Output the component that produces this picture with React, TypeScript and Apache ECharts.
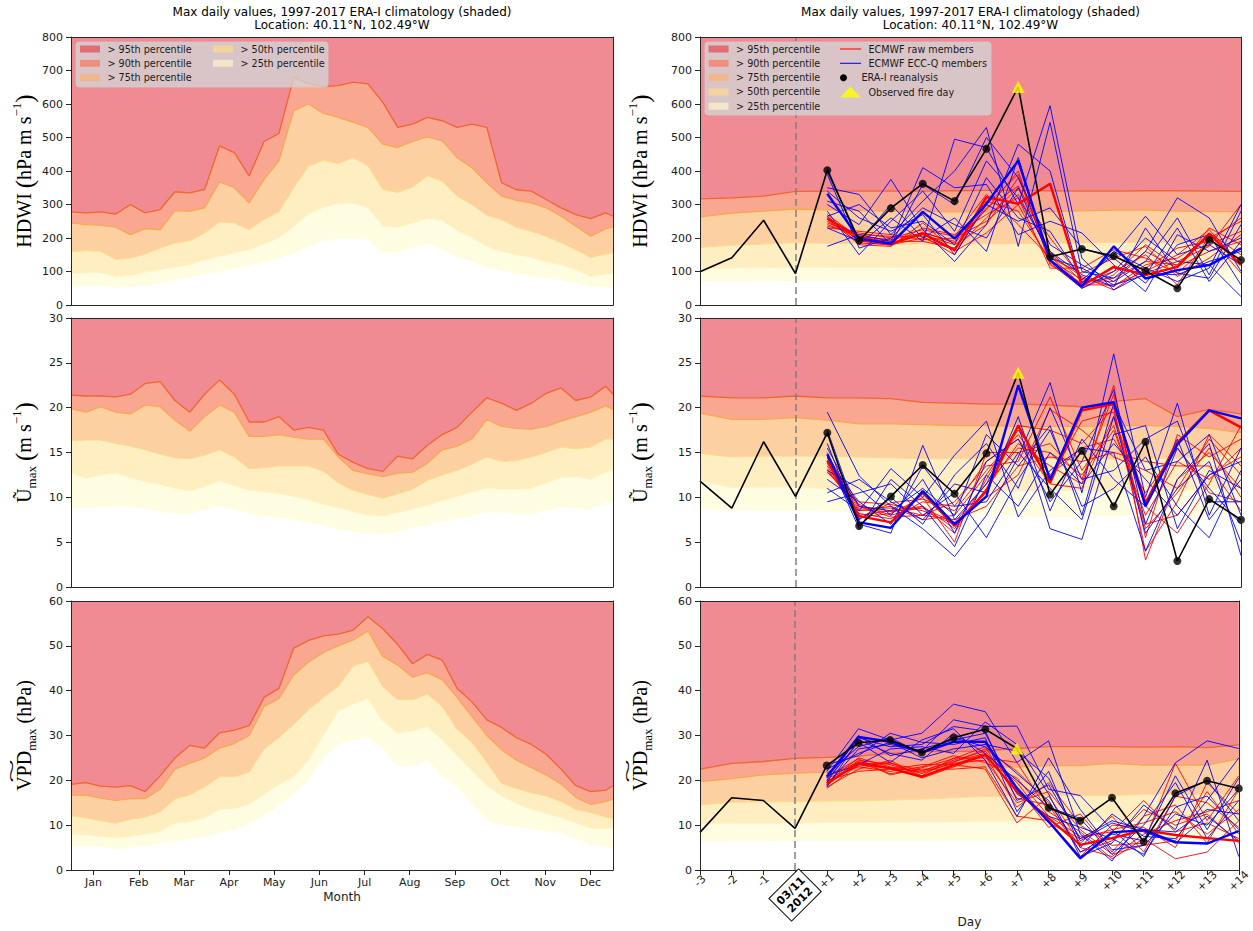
import React, { useEffect, useRef } from 'react';
import * as echarts from 'echarts';

// ---------------- data ----------------
const MONTHS = ['Jan', 'Feb', 'Mar', 'Apr', 'May', 'Jun', 'Jul', 'Aug', 'Sep', 'Oct', 'Nov', 'Dec'];
const CLIM_DAYS = [0, 10, 20, 30, 40, 50, 60, 70, 80, 90, 100, 110, 120, 130, 140, 150, 160, 170, 180, 190, 200, 210, 220, 230, 240, 250, 260, 270, 280, 290, 300, 310, 320, 330, 340, 350, 360, 365];

const HDWI_P95 = [278, 275, 278, 271, 300, 275, 285, 338, 335, 345, 475, 455, 385, 488, 512, 680, 660, 652, 655, 665, 660, 605, 530, 540, 560, 550, 530, 540, 530, 365, 344, 340, 315, 290, 270, 258, 275, 265];
const HDWI_P90 = [245, 240, 238, 232, 210, 228, 224, 282, 280, 290, 367, 350, 305, 375, 430, 580, 600, 572, 560, 545, 530, 480, 470, 488, 502, 490, 440, 410, 365, 325, 312, 305, 290, 265, 235, 205, 228, 233];
const HDWI_P75 = [159, 162, 160, 136, 140, 152, 170, 185, 192, 215, 248, 245, 225, 255, 278, 350, 415, 432, 422, 440, 415, 345, 336, 352, 385, 370, 325, 300, 268, 255, 232, 220, 205, 186, 165, 142, 152, 156];
const HDWI_P50 = [94, 96, 97, 84, 88, 98, 105, 112, 120, 134, 145, 155, 165, 182, 200, 235, 272, 292, 302, 303, 290, 235, 232, 245, 258, 252, 222, 200, 175, 160, 150, 142, 128, 120, 105, 84, 92, 94];
const HDWI_P25 = [55, 57, 58, 51, 54, 59, 65, 75, 85, 92, 99, 108, 118, 128, 140, 154, 175, 192, 196, 198, 195, 155, 158, 170, 182, 165, 142, 130, 112, 102, 92, 86, 80, 74, 66, 55, 52, 50];

const UMAX_P95 = [21.4, 21.3, 21.3, 21.2, 21.5, 22.7, 22.9, 20.8, 19.5, 21.5, 23.1, 21.5, 18.4, 18.4, 19.0, 17.5, 17.8, 17.5, 14.8, 13.9, 13.2, 12.9, 14.6, 14.3, 15.8, 17.0, 17.8, 19.5, 21.1, 20.5, 19.7, 20.5, 21.6, 22.2, 20.8, 21.2, 22.4, 21.5];
const UMAX_P90 = [19.9, 19.5, 20.1, 19.5, 19.3, 20.3, 20.1, 18.6, 17.4, 19.0, 20.3, 19.5, 16.8, 16.8, 17.0, 16.7, 16.5, 16.5, 14.5, 13.0, 12.6, 12.3, 12.7, 12.8, 13.8, 15.3, 15.7, 16.5, 18.7, 17.9, 17.7, 17.6, 17.9, 18.5, 19.0, 19.5, 20.2, 19.8];
const UMAX_P75 = [16.3, 16.4, 16.4, 16.0, 15.7, 15.3, 14.8, 14.4, 14.3, 14.7, 15.3, 14.5, 13.2, 13.3, 13.5, 13.5, 13.5, 12.9, 11.6, 10.8, 10.3, 9.9, 10.4, 10.9, 11.9, 12.5, 13.0, 13.7, 14.5, 14.0, 14.1, 14.5, 15.0, 15.6, 15.4, 15.6, 16.5, 16.5];
const UMAX_P50 = [12.7, 12.1, 12.5, 12.7, 12.2, 11.7, 11.4, 11.0, 10.7, 11.2, 11.8, 11.3, 10.8, 10.6, 10.4, 10.1, 9.7, 9.2, 8.8, 8.4, 8.0, 7.9, 8.3, 8.7, 9.1, 9.6, 10.1, 10.6, 11.0, 10.9, 10.9, 11.0, 11.6, 12.2, 12.3, 12.0, 12.8, 13.0];
const UMAX_P25 = [8.8, 8.8, 8.9, 9.0, 8.9, 8.7, 8.4, 8.2, 8.1, 8.6, 9.0, 8.6, 8.2, 7.9, 7.7, 7.5, 7.2, 6.8, 6.4, 6.2, 6.0, 5.9, 6.2, 6.6, 6.9, 7.3, 7.6, 7.9, 8.3, 8.3, 8.1, 8.1, 8.5, 8.9, 8.8, 8.7, 9.4, 9.4];

const VPD_P95 = [19.1, 19.5, 18.7, 18.5, 18.8, 17.5, 21.0, 25.0, 27.8, 27.2, 30.6, 31.2, 32.2, 38.5, 40.5, 49.5, 51.2, 52.2, 52.6, 53.5, 56.5, 53.8, 50.3, 46.0, 48.1, 46.8, 40.5, 37.5, 33.5, 31.8, 29.5, 28.0, 25.8, 22.5, 18.8, 17.5, 17.8, 18.8];
const VPD_P90 = [16.7, 16.7, 16.0, 15.5, 15.9, 15.9, 18.0, 22.5, 23.8, 25.0, 27.2, 28.2, 30.0, 36.5, 38.2, 43.5, 46.4, 48.5, 50.0, 51.3, 53.3, 47.6, 45.7, 43.0, 44.0, 42.4, 38.5, 34.2, 30.0, 26.8, 24.5, 22.8, 21.2, 19.2, 16.2, 14.6, 15.3, 15.8];
const VPD_P75 = [12.1, 11.6, 11.0, 10.4, 11.3, 11.8, 13.0, 15.8, 16.8, 18.5, 20.8, 20.8, 21.8, 27.0, 29.5, 32.5, 35.8, 38.5, 41.0, 45.5, 46.5, 40.9, 38.0, 38.0, 39.2, 36.5, 31.4, 28.5, 24.0, 19.3, 18.2, 17.2, 16.5, 15.3, 13.5, 12.8, 11.8, 11.5];
const VPD_P50 = [8.0, 7.8, 7.5, 7.2, 7.5, 8.0, 8.6, 10.4, 10.8, 11.6, 13.5, 13.7, 14.6, 16.9, 19.0, 20.8, 24.5, 30.0, 35.5, 37.0, 38.2, 33.1, 30.5, 31.0, 32.0, 29.0, 25.5, 22.2, 18.8, 16.5, 14.8, 13.5, 12.6, 11.6, 10.5, 9.3, 9.3, 9.3];
const VPD_P25 = [5.2, 5.3, 5.3, 4.6, 4.9, 5.5, 6.0, 6.4, 6.9, 7.4, 8.2, 9.0, 10.3, 12.2, 14.3, 17.0, 20.0, 25.0, 28.0, 29.0, 29.6, 27.1, 23.2, 23.2, 24.4, 21.0, 18.5, 14.8, 11.0, 10.0, 9.6, 9.1, 8.6, 8.2, 7.0, 5.7, 5.0, 4.8];

const FC_DAYS = [-3, -2, -1, 0, 1, 2, 3, 4, 5, 6, 7, 8, 9, 10, 11, 12, 13, 14];
const DAY_TICK_LABELS = ['-3', '-2', '-1', '03/11\n2012', '+1', '+2', '+3', '+4', '+5', '+6', '+7', '+8', '+9', '+10', '+11', '+12', '+13', '+14'];
const LEAD_DAYS = [1, 2, 3, 4, 5, 6, 7, 8, 9, 10, 11, 12, 13, 14];
const FIRE_DAY = 7;

const HDWI_F95 = [317, 320, 325, 339, 340, 340, 340, 340, 341, 342, 342, 341, 340, 340, 341, 341, 340, 339];
const HDWI_F90 = [263, 274, 280, 286, 284, 282, 280, 279, 278, 278, 279, 279, 281, 283, 283, 280, 279, 279];
const HDWI_F75 = [172, 178, 182, 186, 184, 183, 182, 182, 183, 183, 183, 184, 185, 187, 186, 186, 186, 187];
const HDWI_F50 = [108, 110, 111, 112, 112, 112, 112, 112, 113, 113, 113, 113, 114, 114, 114, 113, 113, 113];
const HDWI_F25 = [69, 70, 71, 72, 72, 72, 72, 72, 72, 73, 73, 73, 73, 72, 72, 72, 71, 70];

const UMAX_F95 = [21.3, 21.1, 21.1, 21.3, 21.1, 21.1, 21.0, 20.6, 20.5, 20.4, 20.4, 20.3, 20.1, 20.7, 21.0, 19.0, 19.8, 19.3];
const UMAX_F90 = [19.4, 18.7, 18.7, 18.9, 18.6, 18.2, 18.2, 18.1, 18.0, 18.0, 17.9, 17.9, 17.9, 18.0, 18.0, 17.9, 17.7, 17.2];
const UMAX_F75 = [14.9, 14.5, 14.6, 14.6, 14.6, 14.5, 14.4, 14.3, 14.3, 14.3, 14.3, 14.3, 14.3, 14.3, 14.3, 14.4, 14.6, 14.9];
const UMAX_F50 = [11.8, 11.1, 11.1, 11.2, 10.9, 10.9, 10.9, 10.8, 10.8, 10.8, 10.7, 10.7, 10.7, 10.7, 10.8, 10.8, 10.9, 10.9];
const UMAX_F25 = [8.7, 8.5, 8.5, 8.5, 8.4, 8.3, 8.2, 8.1, 8.0, 8.0, 7.9, 7.8, 7.8, 7.9, 7.9, 8.0, 8.0, 8.0];

const VPD_F95 = [22.5, 23.8, 24.2, 24.9, 25.1, 25.4, 26.0, 26.4, 26.4, 26.6, 27.1, 27.5, 27.5, 27.5, 27.4, 27.5, 27.3, 27.9];
const VPD_F90 = [19.7, 20.4, 21.2, 21.6, 21.8, 22.3, 22.7, 23.0, 23.0, 23.0, 23.0, 23.3, 23.3, 23.8, 23.4, 23.4, 23.4, 24.8];
const VPD_F75 = [14.5, 15.1, 15.2, 15.2, 15.4, 15.4, 15.6, 15.8, 16.1, 16.4, 16.6, 16.6, 16.6, 16.6, 16.9, 16.9, 16.9, 16.9];
const VPD_F50 = [10.2, 10.4, 10.4, 10.4, 10.6, 10.6, 10.6, 10.7, 10.7, 10.8, 10.8, 10.8, 10.8, 10.7, 10.7, 10.6, 10.6, 10.6];
const VPD_F25 = [6.3, 6.4, 6.4, 6.5, 6.5, 6.5, 6.5, 6.5, 6.6, 6.6, 6.6, 6.6, 6.6, 6.6, 6.5, 6.5, 6.5, 6.5];

const HDWI_ERA = [99, 141, 253, 94, 402, 193, 289, 362, 310, 466, 651, 144, 167, 146, 102, 50, 195, 134];
const UMAX_ERA = [11.8, 8.8, 16.2, 10.1, 17.2, 6.8, 10.1, 13.6, 10.4, 14.9, 23.9, 10.3, 15.2, 9.0, 16.2, 2.9, 9.8, 7.5];
const VPD_ERA = [8.4, 16.1, 15.5, 9.3, 23.3, 28.4, 29.0, 26.2, 29.5, 31.4, 27.1, 13.9, 11.0, 16.1, 6.3, 17.1, 19.9, 18.2];

const HDWI_RAW = [
  [250, 195, 180, 200, 165, 260, 350, 200, 80, 55, 120, 140, 200, 250],
  [240, 205, 195, 215, 190, 300, 390, 135, 75, 70, 160, 110, 230, 180],
  [265, 190, 185, 210, 180, 240, 380, 145, 60, 110, 95, 130, 175, 300],
  [235, 215, 200, 225, 205, 330, 240, 140, 95, 140, 175, 85, 140, 210],
  [270, 200, 190, 190, 170, 290, 355, 160, 70, 80, 130, 120, 215, 150],
  [255, 185, 180, 230, 210, 270, 320, 110, 110, 165, 140, 95, 180, 220],
  [245, 210, 205, 205, 150, 310, 280, 135, 60, 60, 100, 150, 225, 120],
  [260, 180, 175, 245, 160, 215, 300, 125, 50, 90, 180, 115, 160, 190],
  [230, 220, 210, 195, 200, 250, 330, 150, 85, 45, 110, 170, 190, 260],
  [262, 192, 178, 218, 185, 285, 400, 120, 65, 100, 150, 60, 205, 95],
];
const HDWI_RAW_BOLD = [258, 203, 183, 213, 164, 322, 302, 362, 57, 114, 89, 114, 213, 119];
const HDWI_ECCQ = [
  [410, 180, 260, 190, 495, 470, 300, 595, 140, 45, 95, 90, 130, 160],
  [350, 330, 210, 310, 400, 530, 175, 545, 100, 80, 160, 320, 260, 100],
  [300, 240, 375, 225, 130, 240, 480, 400, 65, 160, 110, 70, 110, 300],
  [175, 210, 190, 410, 350, 360, 210, 250, 215, 120, 40, 210, 160, 200],
  [280, 150, 250, 340, 220, 430, 320, 160, 90, 55, 230, 95, 80, 240],
  [340, 260, 220, 270, 150, 300, 250, 290, 170, 140, 65, 180, 210, 60],
  [230, 190, 300, 200, 260, 160, 440, 130, 50, 100, 200, 130, 120, 25],
  [310, 280, 180, 360, 300, 500, 380, 180, 120, 70, 130, 260, 90, 280],
  [265, 300, 230, 250, 180, 380, 260, 220, 75, 150, 265, 150, 180, 120],
  [390, 170, 200, 290, 240, 200, 350, 140, 110, 60, 90, 230, 70, 190],
];
const HDWI_ECCQ_BOLD = [332, 198, 183, 278, 198, 302, 431, 134, 55, 175, 79, 104, 119, 169];

const UMAX_RAW = [
  [13.5, 8.0, 8.5, 9.0, 6.5, 11.0, 16.0, 13.5, 11.5, 22.5, 3.0, 12.0, 15.0, 11.0],
  [14.5, 9.0, 7.8, 8.0, 9.5, 13.5, 14.0, 21.2, 13.0, 18.0, 7.0, 8.0, 12.5, 14.5],
  [13.0, 8.5, 9.0, 7.5, 8.0, 12.5, 17.5, 12.5, 15.5, 16.5, 10.5, 15.5, 10.5, 9.5],
  [15.0, 7.8, 8.2, 10.0, 5.0, 15.0, 15.0, 16.0, 12.0, 21.5, 5.5, 17.0, 14.5, 16.5],
  [14.0, 9.5, 9.2, 8.5, 7.0, 10.0, 12.5, 19.8, 17.5, 14.5, 13.0, 11.0, 16.5, 12.5],
  [13.2, 8.2, 7.6, 9.5, 9.0, 14.0, 16.5, 11.5, 11.0, 19.0, 9.0, 6.0, 11.5, 18.0],
  [14.8, 8.8, 8.8, 8.0, 7.5, 9.0, 13.5, 14.5, 14.0, 15.0, 14.0, 13.5, 13.5, 8.5],
  [12.8, 9.2, 8.0, 9.0, 6.0, 12.0, 18.0, 17.5, 16.0, 20.0, 4.0, 9.5, 17.0, 13.5],
  [14.2, 8.6, 8.4, 8.8, 7.2, 11.5, 15.5, 15.0, 12.5, 17.5, 8.0, 14.0, 12.0, 15.5],
  [13.8, 7.6, 9.4, 9.8, 8.5, 13.0, 17.0, 12.0, 18.5, 19.5, 6.5, 10.5, 15.5, 10.0],
];
const UMAX_RAW_BOLD = [14.1, 7.9, 7.2, 10.5, 6.8, 10.7, 18.0, 11.6, 19.7, 20.4, 9.4, 16.1, 19.7, 17.8];
const UMAX_ECCQ = [
  [19.5, 12.4, 9.0, 6.5, 3.4, 8.0, 14.5, 22.8, 10.5, 26.0, 10.0, 20.5, 8.0, 15.5],
  [11.0, 8.5, 13.2, 10.0, 14.7, 18.5, 7.8, 13.0, 15.5, 15.0, 4.0, 12.0, 16.0, 3.5],
  [16.0, 7.0, 6.0, 15.8, 7.5, 11.5, 18.0, 6.5, 5.3, 17.0, 18.0, 6.5, 13.0, 11.0],
  [9.5, 10.5, 11.5, 8.0, 10.5, 5.5, 12.0, 17.5, 9.0, 11.0, 14.5, 9.0, 5.5, 13.0],
  [13.0, 11.0, 8.0, 12.0, 6.0, 14.0, 16.5, 9.5, 14.0, 22.0, 7.0, 15.5, 11.0, 7.0],
  [17.5, 7.5, 10.0, 7.0, 12.5, 16.0, 11.0, 20.0, 12.0, 13.0, 16.5, 18.5, 9.5, 9.5],
  [12.0, 9.5, 7.0, 13.5, 9.0, 9.5, 15.0, 11.0, 7.5, 19.0, 6.0, 11.0, 14.0, 5.0],
  [14.5, 6.5, 12.0, 9.0, 4.5, 12.5, 9.0, 15.0, 11.5, 16.0, 12.0, 8.0, 12.5, 14.0],
  [15.5, 9.0, 8.5, 11.0, 8.0, 17.0, 13.5, 18.0, 8.0, 20.5, 13.0, 14.0, 17.0, 8.0],
  [10.5, 12.0, 9.5, 7.5, 11.5, 10.5, 19.0, 8.5, 16.5, 12.0, 9.0, 16.5, 7.5, 12.0],
];
const UMAX_ECCQ_BOLD = [14.8, 7.2, 6.6, 10.7, 7.0, 10.1, 22.5, 12.0, 20.0, 20.6, 9.0, 15.9, 19.7, 18.8];

const VPD_RAW = [
  [19.0, 24.5, 23.5, 21.5, 24.0, 27.0, 22.0, 15.0, 5.0, 3.0, 8.0, 11.0, 13.0, 15.5],
  [20.5, 23.0, 22.0, 23.0, 25.5, 24.0, 20.5, 12.0, 7.5, 8.5, 15.5, 8.5, 10.5, 7.0],
  [18.5, 22.5, 24.5, 20.5, 23.0, 25.5, 14.0, 19.5, 10.0, 5.5, 6.0, 23.8, 11.0, 21.0],
  [21.0, 24.0, 21.5, 22.5, 22.5, 23.0, 12.0, 11.0, 3.0, 10.0, 9.5, 5.0, 19.5, 12.5],
  [19.5, 25.0, 23.0, 22.0, 24.5, 26.5, 18.5, 9.5, 12.5, 4.0, 12.0, 14.5, 6.0, 18.0],
  [20.0, 22.0, 22.5, 23.5, 23.5, 22.5, 10.5, 16.5, 6.0, 12.0, 4.0, 16.5, 15.0, 9.5],
  [18.2, 23.5, 24.0, 21.0, 25.0, 25.0, 24.0, 13.0, 8.5, 2.5, 7.0, 2.5, 4.0, 11.0],
  [20.8, 24.8, 21.2, 22.8, 24.8, 27.5, 16.0, 14.5, 4.0, 6.5, 13.5, 10.0, 12.5, 6.0],
  [19.8, 23.2, 23.8, 22.2, 24.2, 26.0, 19.5, 10.5, 7.0, 9.0, 10.5, 13.0, 8.0, 13.5],
  [18.8, 24.2, 22.8, 21.8, 23.8, 24.5, 15.0, 17.5, 9.0, 3.5, 5.5, 6.5, 17.5, 8.0],
];
const VPD_RAW_BOLD = [19.3, 23.8, 22.7, 20.8, 23.4, 25.7, 17.5, 11.5, 5.6, 7.1, 8.9, 7.8, 7.1, 6.5];
const VPD_ECCQ = [
  [22.0, 31.5, 29.0, 30.5, 37.0, 35.3, 24.0, 28.8, 8.0, 2.0, 12.0, 23.9, 28.8, 27.1],
  [19.0, 27.0, 28.0, 26.5, 33.5, 32.0, 32.1, 18.0, 16.6, 9.0, 3.0, 16.5, 20.0, 11.0],
  [23.5, 25.5, 30.5, 28.5, 28.0, 29.5, 13.0, 22.0, 5.0, 12.5, 7.5, 7.0, 15.5, 25.0],
  [18.5, 29.0, 26.0, 24.5, 30.5, 26.0, 20.0, 14.0, 11.5, 3.5, 10.0, 19.5, 7.0, 15.5],
  [21.0, 23.5, 27.0, 27.5, 26.0, 33.0, 28.0, 17.0, 3.0, 6.0, 14.5, 9.0, 24.5, 3.0],
  [20.0, 28.5, 24.0, 29.0, 31.5, 24.5, 11.9, 25.0, 13.5, 4.5, 5.5, 12.5, 10.0, 18.0],
  [22.5, 26.0, 28.5, 25.0, 27.0, 28.0, 26.5, 20.5, 6.5, 10.5, 8.5, 6.0, 12.0, 6.5],
  [19.5, 30.0, 25.5, 27.0, 29.0, 30.5, 17.0, 12.0, 9.5, 7.0, 3.5, 14.0, 16.5, 9.0],
  [21.5, 27.5, 29.5, 26.0, 29.5, 27.5, 21.5, 15.5, 4.0, 8.0, 6.5, 21.0, 9.0, 20.5],
  [20.5, 29.5, 27.5, 28.0, 32.0, 31.0, 15.5, 19.0, 7.0, 11.0, 9.0, 8.5, 13.5, 12.5],
];
const VPD_ECCQ_BOLD = [20.8, 29.7, 28.6, 26.2, 28.6, 28.6, 18.2, 10.8, 2.6, 8.4, 8.9, 6.2, 5.9, 8.7];

const Y_MAX = [800, 30, 60];
const Y_INTERVAL = [100, 5, 10];
const Y_NAMES = [
  '{a|HDWI }{p|(}{a|hPa m s}{sup|\u22121}{p|)}',
  '{a|\u0168}{sub|max}{a| }{p|(}{a|m s}{sup|\u22121}{p|)}',
  '{a|VPD}{sub|max}{a| (hPa)}',
];
const TITLE = 'Max daily values, 1997-2017 ERA-I climatology (shaded)\nLocation: 40.11\u00b0N, 102.49\u00b0W';

// ---------------- styling ----------------
const FONT = "'DejaVu Sans', sans-serif";
const SERIF = "'Liberation Serif', 'DejaVu Serif', serif";
const AX = '#262626';
const TXT = '#1a1a1a';
const C_TOP = '#f08b94';
const BAND_STYLE = [
  { name: '> 90th percentile', line: '#f5642d', lw: 1.3, area: '#f9a790' },
  { name: '> 75th percentile', line: '#fca64c', lw: 1.2, area: '#fdd0a2' },
  { name: '> 50th percentile', line: '#fedb86', lw: 1.0, area: '#feeec2' },
  { name: '> 25th percentile', line: '#fff4c4', lw: 0.8, area: '#fffde1' },
  { name: 'below 25th', line: '#ffffff', lw: 0, area: '#ffffff' },
];
const LEGEND_PATCH = {
  '> 95th percentile': '#e06c76',
  '> 90th percentile': '#ef8f7e',
  '> 75th percentile': '#f1b68b',
  '> 50th percentile': '#f2d49f',
  '> 25th percentile': '#efe6cb',
};

const CLIM = [
  [HDWI_P95, HDWI_P90, HDWI_P75, HDWI_P50, HDWI_P25],
  [UMAX_P95, UMAX_P90, UMAX_P75, UMAX_P50, UMAX_P25],
  [VPD_P95, VPD_P90, VPD_P75, VPD_P50, VPD_P25],
];
const FC = [
  [HDWI_F95, HDWI_F90, HDWI_F75, HDWI_F50, HDWI_F25],
  [UMAX_F95, UMAX_F90, UMAX_F75, UMAX_F50, UMAX_F25],
  [VPD_F95, VPD_F90, VPD_F75, VPD_F50, VPD_F25],
];
const ERA = [HDWI_ERA, UMAX_ERA, VPD_ERA];
const RAW = [HDWI_RAW, UMAX_RAW, VPD_RAW];
const RAW_BOLD = [HDWI_RAW_BOLD, UMAX_RAW_BOLD, VPD_RAW_BOLD];
const ECCQ = [HDWI_ECCQ, UMAX_ECCQ, VPD_ECCQ];
const ECCQ_BOLD = [HDWI_ECCQ_BOLD, UMAX_ECCQ_BOLD, VPD_ECCQ_BOLD];

function buildOption() {
  const ROWS = [
    { top: 37, height: 268 },
    { top: 318, height: 269 },
    { top: 601, height: 269 },
  ];
  const COLS = [
    { left: 71, width: 542 },
    { left: 700, width: 541 },
  ];
  const grid: any[] = [];
  const xAxis: any[] = [];
  const yAxis: any[] = [];
  const series: any[] = [];
  const lbl = { fontFamily: FONT, fontSize: 11, color: TXT };
  const lineAx = { show: true, onZero: false, lineStyle: { color: AX, width: 1 } };
  const nameStyle = {
    fontFamily: SERIF,
    fontSize: 20,
    color: '#000',
    rich: {
      a: { fontFamily: SERIF, fontSize: 20, lineHeight: 28, color: '#000' },
      p: { fontFamily: SERIF, fontSize: 25, lineHeight: 28, color: '#000' },
      sup: { fontFamily: SERIF, fontSize: 13, lineHeight: 12, verticalAlign: 'top', color: '#000' },
      sub: { fontFamily: SERIF, fontSize: 13, lineHeight: 12, verticalAlign: 'bottom', color: '#000' },
    },
  };

  // empty series that carries the ">95th" legend entry (the band is the grid background)
  series.push({ type: 'line', name: '> 95th percentile', data: [], xAxisIndex: 0, yAxisIndex: 0, silent: true });

  for (let c = 0; c < 2; c++) {
    for (let r = 0; r < 3; r++) {
      const g = grid.length;
      grid.push({
        left: COLS[c].left, top: ROWS[r].top, width: COLS[c].width, height: ROWS[r].height,
        show: true, backgroundColor: C_TOP, borderWidth: 0, containLabel: false,
      });
      const xmin = c ? -3 : 0;
      const xmax = c ? 14 : 365;
      const xi = xAxis.length;
      const bottom = r === 2;
      xAxis.push({
        gridIndex: g, type: 'value', position: 'bottom', min: xmin, max: xmax,
        ...(c ? { interval: 1 } : {}),
        axisLine: lineAx,
        axisTick: { show: c === 1 && bottom, length: 5, lineStyle: { color: AX } },
        axisLabel: { show: false }, splitLine: { show: false }, z: 10,
      });
      xAxis.push({
        gridIndex: g, type: 'value', position: 'top', min: xmin, max: xmax,
        axisLine: lineAx, axisTick: { show: false }, axisLabel: { show: false }, splitLine: { show: false }, z: 10,
      });
      if (bottom && c === 0) {
        xAxis.push({
          gridIndex: g, type: 'category', position: 'bottom', data: MONTHS, boundaryGap: true,
          axisLine: { show: false },
          axisTick: { show: true, alignWithLabel: true, length: 5, lineStyle: { color: AX } },
          axisLabel: { ...lbl, margin: 7, interval: 0 },
          name: 'Month', nameLocation: 'middle', nameGap: 21,
          nameTextStyle: { fontFamily: FONT, fontSize: 12, color: TXT },
          splitLine: { show: false }, z: 10,
        });
      }
      if (bottom && c === 1) {
        xAxis.push({
          gridIndex: g, type: 'category', position: 'bottom', data: DAY_TICK_LABELS, boundaryGap: false,
          axisLine: { show: false }, axisTick: { show: false },
          axisLabel: {
            ...lbl, interval: (i: number) => FC_DAYS[i] !== 0, rotate: 45,
            align: 'center', verticalAlign: 'middle', margin: 11,
          },
          name: 'Day', nameLocation: 'middle', nameGap: 46,
          nameTextStyle: { fontFamily: FONT, fontSize: 12, color: TXT },
          splitLine: { show: false }, z: 10,
        });
        xAxis.push({
          gridIndex: g, type: 'category', position: 'bottom', data: DAY_TICK_LABELS, boundaryGap: false,
          axisLine: { show: false }, axisTick: { show: false },
          axisLabel: {
            interval: (i: number) => FC_DAYS[i] === 0, rotate: 45,
            align: 'center', verticalAlign: 'middle', margin: 25,
            formatter: (v: string) => v.split('\n').map((s) => `{d|${s}}`).join('\n'),
            rich: { d: { fontFamily: FONT, fontSize: 11, fontWeight: 'bold', color: '#000', width: 35, align: 'center', lineHeight: 13 } },
            borderColor: '#000', borderWidth: 1, padding: [3, 3, 2, 3], backgroundColor: '#fff',
          },
          splitLine: { show: false }, z: 10,
        });
      }
      const yi = yAxis.length;
      yAxis.push({
        gridIndex: g, type: 'value', position: 'left', min: 0, max: Y_MAX[r], interval: Y_INTERVAL[r],
        axisLine: lineAx, axisTick: { show: true, length: 5, lineStyle: { color: AX } },
        axisLabel: { ...lbl, margin: 8 }, splitLine: { show: false },
        name: Y_NAMES[r], nameLocation: 'middle', nameRotate: 90, nameGap: c ? 46 : 33,
        nameTextStyle: nameStyle, z: 10,
      });
      yAxis.push({
        gridIndex: g, type: 'value', position: 'right', min: 0, max: Y_MAX[r],
        axisLine: lineAx, axisTick: { show: false }, axisLabel: { show: false }, splitLine: { show: false }, z: 10,
      });

      // percentile bands
      const days = c ? FC_DAYS : CLIM_DAYS;
      const bands = c ? FC[r] : CLIM[r];
      bands.forEach((arr, bi) => {
        const st = BAND_STYLE[bi];
        const s: any = {
          type: 'line', name: st.name, xAxisIndex: xi, yAxisIndex: yi, silent: true,
          data: days.map((d, k) => [d, arr[k]]), symbol: 'none', showSymbol: false,
          lineStyle: { color: st.line, width: st.lw }, areaStyle: { color: st.area, opacity: 1 }, z: 2,
        };
        if (c === 1 && bi === bands.length - 1) {
          s.markLine = {
            silent: true, symbol: ['none', 'none'], label: { show: false },
            lineStyle: { color: '#7f7f7f', width: 1.5, type: [7, 4] },
            data: [{ xAxis: 0 }],
          };
        }
        series.push(s);
      });

      if (c === 1) {
        const mk = (name: string, arr: number[], color: string, width: number, z: number) => ({
          type: 'line', name, xAxisIndex: xi, yAxisIndex: yi, silent: true,
          data: LEAD_DAYS.map((d, k) => [d, arr[k]]), symbol: 'none', showSymbol: false,
          lineStyle: { color, width }, z,
        });
        RAW[r].forEach((m) => series.push(mk('ECMWF raw members', m, '#ff0000', 0.9, 3)));
        ECCQ[r].forEach((m) => series.push(mk('ECMWF ECC-Q members', m, '#0000ff', 0.9, 3)));
        series.push(mk('ECMWF raw members', RAW_BOLD[r], '#ff0000', 2.4, 4));
        series.push(mk('ECMWF ECC-Q members', ECCQ_BOLD[r], '#0000ff', 2.4, 4));
        const era = ERA[r];
        series.push({
          type: 'line', name: 'ERA-I reanalysis', xAxisIndex: xi, yAxisIndex: yi, silent: true,
          data: FC_DAYS.map((d, k) => [d, era[k]]), symbol: 'none', showSymbol: false,
          lineStyle: { color: '#000', width: 1.6 }, z: 5,
        });
        series.push({
          type: 'scatter', name: 'ERA-I reanalysis', xAxisIndex: xi, yAxisIndex: yi, silent: true,
          data: FC_DAYS.map((d, k) => [d, era[k]]).filter((p) => p[0] >= 1 && p[0] !== FIRE_DAY),
          symbol: 'circle', symbolSize: 8, itemStyle: { color: '#000' }, z: 6,
        });
        series.push({
          type: 'scatter', name: 'Observed fire day', xAxisIndex: xi, yAxisIndex: yi, silent: true,
          data: [[FIRE_DAY, era[FC_DAYS.indexOf(FIRE_DAY)]]],
          symbol: 'triangle', symbolSize: [13, 12], itemStyle: { color: '#ffff00' }, z: 7,
        });
      }
    }
  }

  const legTxt = { fontFamily: FONT, fontSize: 9.6, color: TXT, lineHeight: 12, padding: [0, 0, 0, 2.5] };
  const patch = (name: string) => ({ name, icon: 'rect', itemStyle: { color: (LEGEND_PATCH as any)[name], borderWidth: 0 } });
  const baseLeg = { orient: 'vertical', selectedMode: false, z: 60, itemGap: 2.3, textStyle: legTxt, padding: 0 };
  const legend = [
    { ...baseLeg, left: 80, top: 43, itemWidth: 20, itemHeight: 7,
      data: ['> 95th percentile', '> 90th percentile', '> 75th percentile'].map(patch) },
    { ...baseLeg, left: 213, top: 43, itemWidth: 20, itemHeight: 7,
      data: ['> 50th percentile', '> 25th percentile'].map(patch) },
    { ...baseLeg, left: 708.6, top: 43, itemWidth: 20, itemHeight: 7,
      data: ['> 95th percentile', '> 90th percentile', '> 75th percentile', '> 50th percentile', '> 25th percentile'].map(patch) },
    { ...baseLeg, left: 840, top: 43, itemWidth: 21, itemHeight: 7,
      data: [
        { name: 'ECMWF raw members', icon: 'path://M0,0H40V2H0Z', itemStyle: { color: '#ff0000', borderWidth: 0 } },
        { name: 'ECMWF ECC-Q members', icon: 'path://M0,0H40V2H0Z', itemStyle: { color: '#0000ff', borderWidth: 0 } },
      ] },
    { ...baseLeg, left: 840, top: 71.7, itemWidth: 21, itemHeight: 7,
      data: [{ name: 'ERA-I reanalysis', icon: 'circle', itemStyle: { color: '#000', borderWidth: 0 } }] },
    { ...baseLeg, left: 840, top: 86, itemWidth: 21, itemHeight: 11,
      data: [{ name: 'Observed fire day', icon: 'triangle', itemStyle: { color: '#ffff00', borderWidth: 0 } }] },
  ];

  const graphic: any[] = [
    { type: 'text', x: 342, y: 5, z: 100, style: { text: TITLE, fontFamily: FONT, fontSize: 12, lineHeight: 13.5, fill: '#000', align: 'center', verticalAlign: 'top' } },
    { type: 'text', x: 970.5, y: 5, z: 100, style: { text: TITLE, fontFamily: FONT, fontSize: 12, lineHeight: 13.5, fill: '#000', align: 'center', verticalAlign: 'top' } },
    { type: 'rect', z: 50, shape: { x: 76, y: 42, width: 252, height: 45, r: 3 }, style: { fill: 'rgba(211,211,211,0.8)', stroke: 'rgba(204,204,204,0.8)', lineWidth: 1 } },
    { type: 'rect', z: 50, shape: { x: 705, y: 42, width: 286, height: 73, r: 3 }, style: { fill: 'rgba(211,211,211,0.8)', stroke: 'rgba(204,204,204,0.8)', lineWidth: 1 } },
    { type: 'text', x: 12, y: 771, rotation: Math.PI / 2, scaleX: 2.4, z: 100, style: { text: '~', fontFamily: SERIF, fontSize: 18, fill: '#000', align: 'center', verticalAlign: 'middle' } },
    { type: 'text', x: 628, y: 771, rotation: Math.PI / 2, scaleX: 2.4, z: 100, style: { text: '~', fontFamily: SERIF, fontSize: 18, fill: '#000', align: 'center', verticalAlign: 'middle' } },
  ];

  return {
    animation: false,
    backgroundColor: '#ffffff',
    textStyle: { fontFamily: FONT },
    grid, xAxis, yAxis, series, legend, graphic,
  };
}

export default function App() {
  const ref = useRef<HTMLDivElement>(null);
  useEffect(() => {
    if (!ref.current) return;
    const chart = echarts.init(ref.current, undefined, { renderer: 'svg' });
    chart.setOption(buildOption() as any);
    return () => chart.dispose();
  }, []);
  return <div ref={ref} style={{ position: 'fixed', left: 0, top: 0, width: 1253, height: 931, background: '#fff' }} />;
}
